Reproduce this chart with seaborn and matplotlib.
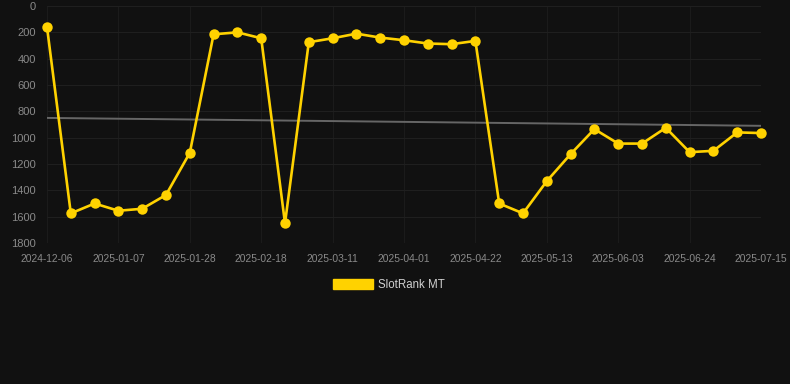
import matplotlib
matplotlib.use("Agg")
import matplotlib.pyplot as plt
import seaborn as sns
import pandas as pd
from matplotlib.patches import Patch

dates = ["2024-12-06", "2024-12-17", "2024-12-24", "2025-01-07", "2025-01-14", "2025-01-21",
         "2025-01-28", "2025-02-04", "2025-02-11", "2025-02-18", "2025-02-25", "2025-03-04",
         "2025-03-11", "2025-03-18", "2025-03-25", "2025-04-01", "2025-04-08", "2025-04-15",
         "2025-04-22", "2025-04-29", "2025-05-06", "2025-05-13", "2025-05-20", "2025-05-27",
         "2025-06-03", "2025-06-10", "2025-06-17", "2025-06-24", "2025-07-01", "2025-07-08",
         "2025-07-15"]
rank = [160, 1575, 1500, 1555, 1540, 1435, 1115, 215, 200, 245, 1650, 275, 245, 210, 240,
        260, 285, 290, 265, 1500, 1575, 1330, 1125, 935, 1045, 1045, 925, 1110, 1100, 960, 965]
trend_ends = [850, 910]
series_name = "SlotRank MT"
yticks = [0, 200, 400, 600, 800, 1000, 1200, 1400, 1600, 1800]

sns.set_theme(style="dark")
plt.rcParams['font.family'] = ['Liberation Sans', 'DejaVu Sans']

bg = "#111111"
gold = "#FFD200"

fig = plt.figure(figsize=(7.9, 3.84), dpi=100, facecolor=bg)
ax = fig.add_axes([47/790, 1-243/384, (761-47)/790, (243-6)/384])
ax.set_facecolor(bg)

n = len(rank)
df = pd.DataFrame({"idx": range(n), "rank": rank})
tdf = pd.DataFrame({"idx": [0, n-1], "rank": trend_ends})

sns.lineplot(data=tdf, x="idx", y="rank", ax=ax, color="#666666", linewidth=1.4, zorder=2)
sns.lineplot(data=df, x="idx", y="rank", ax=ax, color=gold, linewidth=1.9,
             marker="o", markersize=7.5, markeredgewidth=0, zorder=3, clip_on=False)

ax.set_xlim(0, n-1)
ax.set_ylim(1800, 0)
ax.set_yticks(yticks)
ax.set_yticklabels([str(v) for v in yticks])
xt = list(range(0, n, 3))
ax.set_xticks(xt)
ax.set_xticklabels([dates[i] for i in xt])
ax.tick_params(axis="y", colors="#8a8a8a", labelsize=8, length=0, pad=8)
ax.tick_params(axis="x", colors="#8a8a8a", labelsize=7.4, length=0, pad=8)
ax.grid(True, axis="y", color="#1f1f1f", linewidth=0.8)
ax.grid(True, axis="x", color="#1b1b1b", linewidth=0.8)
for s in ax.spines.values():
    s.set_visible(False)
ax.set_xlabel("")
ax.set_ylabel("")
leg = ax.get_legend()
if leg:
    leg.remove()

fig.legend(handles=[Patch(facecolor=gold, edgecolor=gold, label=series_name)],
           loc="center", bbox_to_anchor=(0.492, 1-285/384), frameon=False,
           fontsize=8.3, labelcolor="#d0d0d0", handlelength=3.5, handleheight=0.9,
           handletextpad=0.45)

fig.savefig("out.png", dpi=100, facecolor=bg)
